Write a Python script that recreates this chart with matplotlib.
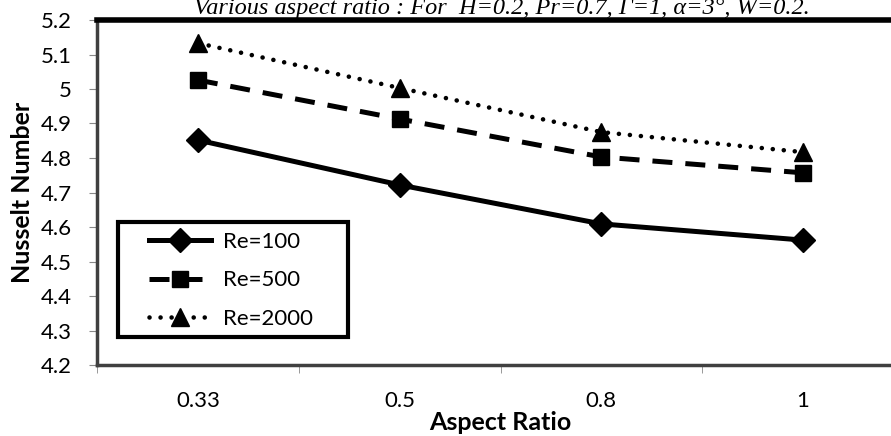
import matplotlib
matplotlib.use("Agg")
import matplotlib.pyplot as plt
from matplotlib.patches import Rectangle

categories = ["0.33", "0.5", "0.8", "1"]
re100 = [4.852, 4.722, 4.609, 4.562]
re500 = [5.026, 4.913, 4.803, 4.757]
re2000 = [5.133, 5.003, 4.875, 4.817]
series_labels = ["Re=100", "Re=500", "Re=2000"]
yticks = [4.2, 4.3, 4.4, 4.5, 4.6, 4.7, 4.8, 4.9, 5.0, 5.1, 5.2]
ytick_labels = ["4.2", "4.3", "4.4", "4.5", "4.6", "4.7", "4.8", "4.9", "5", "5.1", "5.2"]
title = "Various aspect ratio : For  H=0.2, Pr=0.7, Γ=1, α=3°, W=0.2."

plt.rcParams['font.family'] = ['Lato', 'DejaVu Sans']

W, H = 891, 436
fig = plt.figure(figsize=(W/100, H/100), dpi=100)
left, right, top, bottom = 97, 904, 20, 365
ax = fig.add_axes([left/W, 1 - bottom/H, (right-left)/W, (bottom-top)/H])

x = list(range(len(categories)))
ax.plot(x, re100, color='black', lw=3.6, ls='-', marker='D', ms=12, label=series_labels[0], clip_on=False)
ax.plot(x, re500, color='black', lw=3.6, ls=(0, (4, 2.6)), marker='s', ms=12, label=series_labels[1], clip_on=False)
ax.plot(x, re2000, color='black', lw=3.3, ls=(0, (0.01, 2.4)), dash_capstyle='round', marker='^', ms=13, label=series_labels[2], clip_on=False)

ax.set_xlim(-0.5, 3.5)
ax.set_ylim(4.2, 5.2)
ax.set_yticks(yticks)
ax.set_yticklabels(ytick_labels, fontsize=16)
ax.set_xticks(x)
ax.set_xticklabels(categories, fontsize=16)
ax.set_xticks([-0.5, 0.5, 1.5, 2.5], minor=True)
ax.tick_params(axis='x', which='major', length=0, pad=19)
ax.tick_params(axis='x', which='minor', length=6, color='#888888', direction='out')
ax.tick_params(axis='y', length=6, color='#888888', direction='out', pad=12)

for s in ['left', 'bottom']:
    ax.spines[s].set_color('#404040')
    ax.spines[s].set_linewidth(2.5)
ax.spines['top'].set_color('black')
ax.spines['top'].set_linewidth(4)
ax.spines['right'].set_visible(False)

ax.set_ylabel("Nusselt Number", fontsize=18, fontweight='bold', labelpad=5)
ax.set_xlabel("Aspect Ratio", fontsize=18, fontweight='bold', labelpad=0)

# legend frame (Excel-style box) drawn in figure pixels
fig.patches.append(Rectangle((118/W, 1 - 337/H), (348-118)/W, (337-222)/H,
                             transform=fig.transFigure, fill=True, facecolor='white',
                             edgecolor='black', lw=3, zorder=5))
leg = fig.legend(loc='upper left', bbox_to_anchor=(149/W, 1 - 232/H),
                 fontsize=16, frameon=False,
                 handlelength=2.8, borderpad=0, labelspacing=0.83, handletextpad=0.55,
                 borderaxespad=0)
leg.set_zorder(6)

fig.text(502/W, 1 - 14/H, title, fontsize=17.5, style='italic', family=['Liberation Serif', 'DejaVu Serif'],
         ha='center', va='baseline')

fig.savefig("out.png", dpi=100)
